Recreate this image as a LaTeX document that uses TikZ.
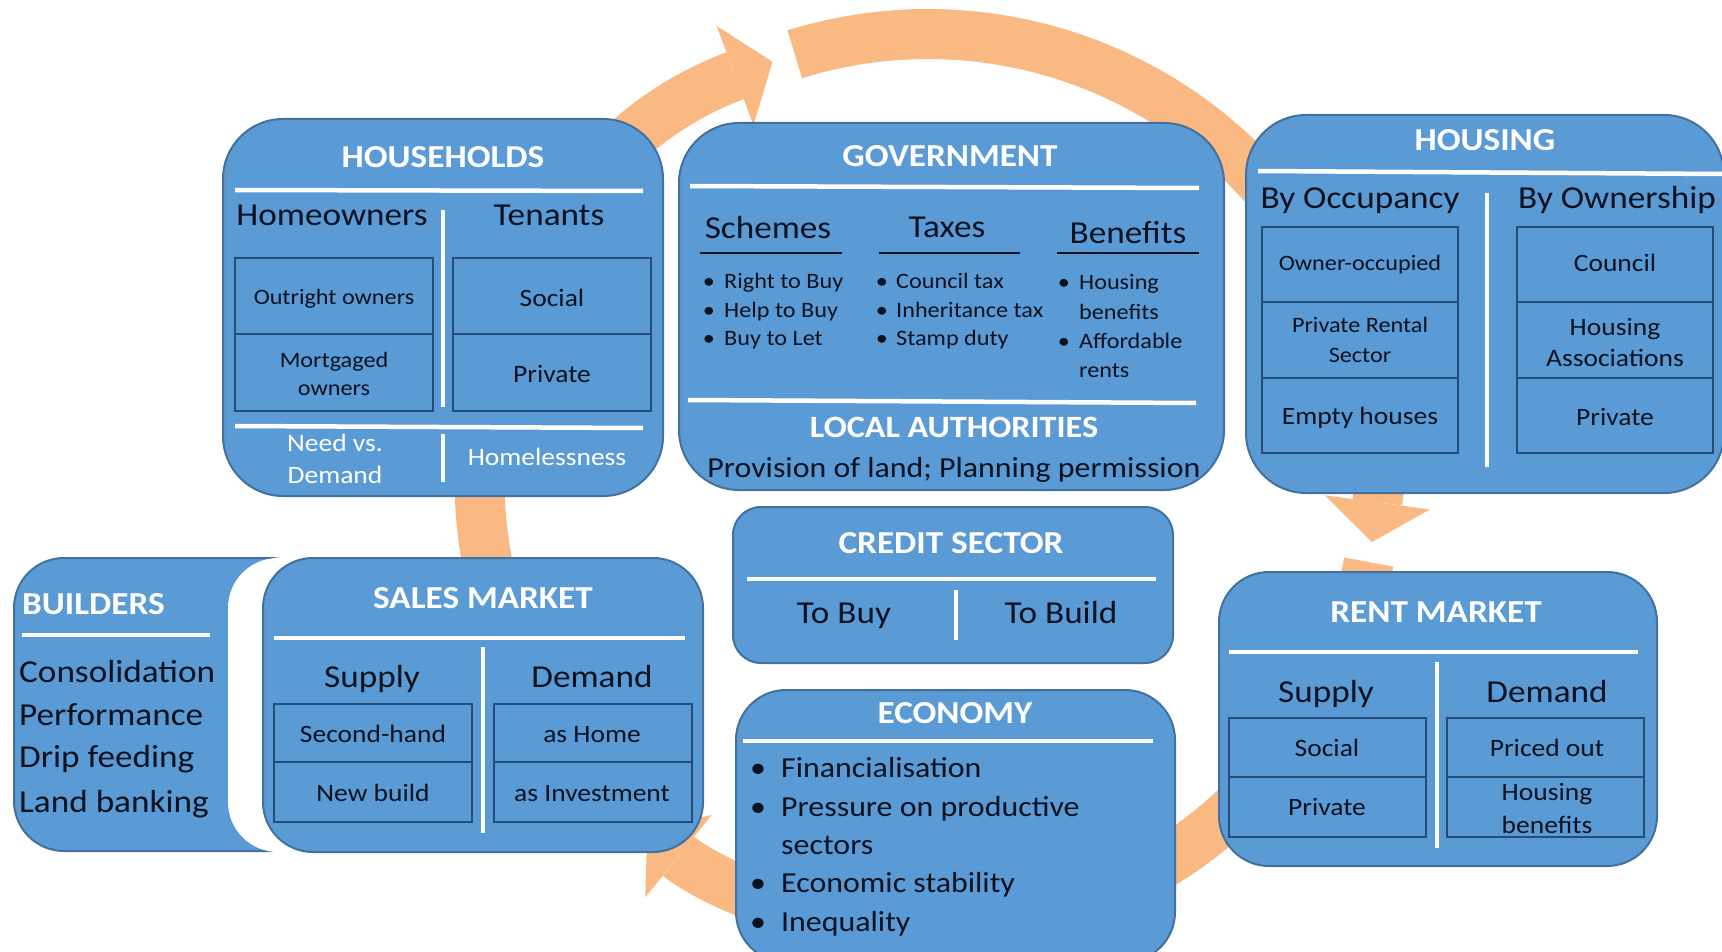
\documentclass[tikz,border=0pt]{standalone}
\usepackage{fontspec}
\setmainfont{Carlito}[FakeStretch=1.1]
\usetikzlibrary{arrows.meta}

\definecolor{panelfill}{HTML}{5B9BD5}
\definecolor{paneledge}{HTML}{41719C}
\definecolor{celledge}{RGB}{38,76,122}
\definecolor{ink}{RGB}{10,18,32}
\definecolor{flow}{RGB}{250,184,130}

\tikzset{
  panel/.style={fill=panelfill, draw=paneledge, line width=2pt, rounded corners=#1},
  cell/.style={draw=celledge, line width=2pt},
  wline/.style={white, line width=4.5pt},
  vbar/.style={white, line width=3.5pt},
  uline/.style={ink, line width=2.5pt},
  ttl/.style={inner sep=0pt, text height=20.5pt, text depth=0pt, text=white, font=\fontsize{32}{38}\selectfont\bfseries},
  hd/.style={inner sep=0pt, text height=20.5pt, text depth=0pt, text=ink, font=\fontsize{32}{38}\selectfont},
  lbl/.style={inner sep=0pt, text height=16pt, text depth=0pt, text=ink, font=\fontsize{25}{31}\selectfont},
  smalltxt/.style={inner sep=0pt, text height=14pt, text depth=0pt, text=ink, font=\fontsize{22}{28}\selectfont},
  ectxt/.style={inner sep=0pt, text height=18.5pt, text depth=0pt, text=ink, font=\fontsize{29}{35}\selectfont},
  twoline/.style={inner sep=0pt, align=center, text=ink},
  flowarc/.style={flow, line width=50pt, -{Triangle[width=106pt, length=40pt, line width=0pt]}}
}

\begin{document}
\begin{tikzpicture}[x=1pt, y=-1pt]
\useasboundingbox (0,0) rectangle (1722,952);
\clip (0,0) rectangle (1722,952);

% the orange cycle behind the panels
\coordinate (ring) at (928,482);
\draw[flowarc] ([shift={(160:448)}]ring) arc[start angle=160, end angle=249.7, radius=448];
\draw[flowarc] ([shift={(252.7:448)}]ring) arc[start angle=252.7, end angle=367.7, radius=448];
\draw[flowarc] ([shift={(370.3:448)}]ring) arc[start angle=370.3, end angle=488.8, radius=448];

% households
\draw[panel=60pt] (223,119) rectangle (663,496);
\node[ttl] (hh) at (443,157) {HOUSEHOLDS};
\draw[wline] (235,190) -- (643,191);
\node[hd] (hh-own) at (332,215) {Homeowners};
\node[hd] (hh-ten) at (549,215) {Tenants};
\draw[vbar] (443,210) -- (443,407);
\foreach \x in {235,453}{
  \draw[cell] (\x,258) rectangle ++(198,76);
  \draw[cell] (\x,334) rectangle ++(198,77);
}
\node[smalltxt] (hh-out) at (334,298) {Outright owners};
\node[twoline, font=\fontsize{22}{28}\selectfont] (hh-mort) at (334,374) {Mortgaged\\owners};
\node[lbl] (hh-soc) at (552,298) {Social};
\node[lbl] (hh-priv) at (552,374) {Private};
\draw[wline] (235,426) -- (643,428);
\node[twoline, text=white, font=\fontsize{25}{32}\selectfont] (hh-need) at (335,459) {Need vs.\\Demand};
\draw[vbar] (443,434) -- (443,482);
\node[lbl, text=white] (hh-home) at (547,457) {Homelessness};

% government
\draw[panel=60pt] (679,123) rectangle (1224,490);
\node[ttl] (gov) at (950,156) {GOVERNMENT};
\draw[wline] (690,186) -- (1199,188);
\node[hd] (gov-sch) at (768,228) {Schemes};
\node[hd] (gov-tax) at (947,227) {Taxes};
\node[hd] (gov-ben) at (1128,233) {Benefits};
\draw[uline] (700,253) -- (842,253);
\draw[uline] (879,253) -- (1020,253);
\draw[uline] (1057,253) -- (1199,253);
\foreach \t [count=\i] in {Right to Buy, Help to Buy, Buy to Let}{
  \node[smalltxt] (sch-b\i) at (709,253+28.5*\i) {\textbullet};
  \node[smalltxt, anchor=west] (sch-\i) at (724,253+28.5*\i) {\t};
}
\foreach \t [count=\i] in {Council tax, Inheritance tax, Stamp duty}{
  \node[smalltxt] (tax-b\i) at (882,253+28.5*\i) {\textbullet};
  \node[smalltxt, anchor=west] (tax-\i) at (896,253+28.5*\i) {\t};
}
\node[smalltxt] (ben-b1) at (1064,283) {\textbullet};
\node[smalltxt, anchor=west] (ben-1) at (1079,283) {Housing};
\node[smalltxt, anchor=west] (ben-1x) at (1079,312) {benefits};
\node[smalltxt] (ben-b2) at (1064,341) {\textbullet};
\node[smalltxt, anchor=west] (ben-2) at (1079,341) {Affordable};
\node[smalltxt, anchor=west] (ben-2x) at (1079,370) {rents};
\draw[wline] (688,400) -- (1196,403);
\node[ttl, text height=20pt, font=\fontsize{31}{37}\selectfont\bfseries] (loc) at (954,427) {LOCAL AUTHORITIES};
\node[ectxt] (loc-txt) at (954,468) {Provision of land; Planning permission};

% housing
\draw[panel=60pt] (1246,115) rectangle (1724,493);
\node[ttl] (hs) at (1485,140) {HOUSING};
\draw[wline] (1258,171) -- (1722,174);
\node[hd] (hs-occ) at (1360,198) {By Occupancy};
\node[hd] (hs-own) at (1617,198) {By Ownership};
\draw[vbar] (1487,193) -- (1487,467);
\foreach \x in {1262,1517}{
  \draw[cell] (\x,227) rectangle ++(196,75);
  \draw[cell] (\x,302) rectangle ++(196,76);
  \draw[cell] (\x,378) rectangle ++(196,75);
}
\node[smalltxt] (hs-oo) at (1360,264) {Owner-occupied};
\node[twoline, font=\fontsize{22}{30}\selectfont] (hs-prs) at (1360,340) {Private Rental\\Sector};
\node[lbl] (hs-empty) at (1360,416) {Empty houses};
\node[lbl] (hs-coun) at (1615,264) {Council};
\node[twoline, font=\fontsize{25}{31}\selectfont] (hs-ha) at (1615,342) {Housing\\Associations};
\node[lbl] (hs-priv) at (1615,417) {Private};

% credit sector
\draw[panel=28pt] (733,507) rectangle (1173,663);
\node[ttl] (cr) at (951,543) {CREDIT SECTOR};
\draw[wline] (747,579) -- (1156,579);
\node[hd] (cr-buy) at (844,613) {To Buy};
\node[hd] (cr-build) at (1061,613) {To Build};
\draw[vbar] (956,590) -- (956,640);

% economy
\draw[panel=50pt] (736,690) rectangle (1175,962);
\node[ttl] (eco) at (955,713) {ECONOMY};
\draw[wline] (743,741) -- (1153,741);
\foreach \y/\t [count=\i] in {768/Financialisation, 807/Pressure on productive, 883/Economic stability, 922/Inequality}{
  \node[ectxt] (eco-b\i) at (758,\y) {\textbullet};
  \node[ectxt, anchor=west] (eco-\i) at (781,\y) {\t};
}
\node[ectxt, anchor=west] (eco-2x) at (781,845) {sectors};

% builders, half hidden by the sales market
\draw[panel=50pt] (14,558) rectangle (320,851);
\node[ttl, anchor=west] (bld) at (22,604) {BUILDERS};
\draw[wline] (22,635) -- (210,635);
\foreach \y/\t [count=\i] in {672/Consolidation, 715/Performance, 757/Drip feeding, 802/Land banking}{
  \node[hd, anchor=west] (bld-\i) at (19,\y) {\t};
}

% sales market
\fill[white, rounded corners=50pt] (228,558) rectangle (703,852);
\draw[panel=50pt] (263,558) rectangle (703,852);
\node[ttl] (sm) at (483,598) {SALES MARKET};
\draw[wline] (274,638) -- (685,638);
\draw[vbar] (483,647) -- (483,833);
\node[hd] (sm-sup) at (372,677) {Supply};
\node[hd] (sm-dem) at (592,677) {Demand};
\foreach \x in {274,494}{
  \draw[cell] (\x,704) rectangle ++(198,58);
  \draw[cell] (\x,762) rectangle ++(198,60);
}
\node[lbl] (sm-sec) at (373,734) {Second-hand};
\node[lbl] (sm-new) at (373,793) {New build};
\node[lbl] (sm-home) at (592,734) {as Home};
\node[lbl] (sm-inv) at (592,793) {as Investment};

% rent market
\draw[panel=50pt] (1219,572) rectangle (1657,866);
\node[ttl] (rm) at (1436,612) {RENT MARKET};
\draw[wline] (1229,652) -- (1638,652);
\draw[vbar] (1437,662) -- (1437,848);
\node[hd] (rm-sup) at (1326,692) {Supply};
\node[hd] (rm-dem) at (1547,692) {Demand};
\foreach \x in {1229,1447}{
  \draw[cell] (\x,718) rectangle ++(197,59);
  \draw[cell] (\x,777) rectangle ++(197,60);
}
\node[lbl] (rm-soc) at (1327,748) {Social};
\node[lbl] (rm-priv) at (1327,807) {Private};
\node[lbl] (rm-out) at (1547,748) {Priced out};
\node[twoline, font=\fontsize{25}{33}\selectfont] (rm-ben) at (1547,808) {Housing\\benefits};

\end{tikzpicture}
\end{document}
